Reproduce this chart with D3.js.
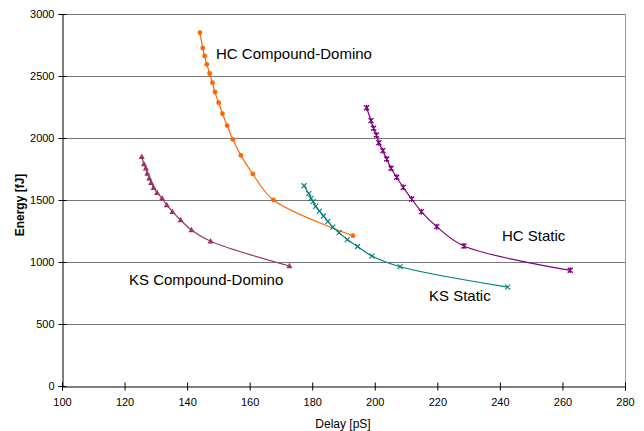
<!DOCTYPE html>
<html><head><meta charset="utf-8">
<script src="https://cdn.jsdelivr.net/npm/d3@7"></script>
<style>body{margin:0;background:#fff}svg{display:block}text{font-family:"Liberation Sans",Arial,sans-serif}</style>
</head><body><svg id="c" width="644" height="431"></svg>
<script>
const xTicks = [100,120,140,160,180,200,220,240,260,280];
const yTicks = [0,500,1000,1500,2000,2500,3000];

const hcCDx = [144.1,145.0,145.6,146.3,147.2,148.1,148.9,150.1,151.3,152.8,154.6,157.2,161.0,167.6,193.0];
const hcCDy = [2849,2726,2662,2594,2520,2446,2371,2285,2196,2100,1989,1860,1710,1500,1212];

const ksCDx = [125.5,126.2,126.8,127.3,127.9,128.5,129.3,130.4,132.0,133.5,135.3,137.9,141.4,147.5,172.7];
const ksCDy = [1849,1790,1756,1715,1675,1640,1599,1559,1514,1460,1406,1339,1258,1167,968];

const ksSx = [177.4,178.9,179.6,180.3,181.1,182.3,183.6,185.0,186.6,188.6,191.2,194.5,199.1,208.1,242.5];
const ksSy = [1615,1551,1514,1486,1449,1411,1371,1327,1281,1236,1181,1125,1048,962,798];

const hcSx = [197.4,198.8,199.6,200.5,201.3,202.6,203.8,205.2,207.0,209.1,211.8,214.9,219.8,228.5,262.5];
const hcSy = [2244,2140,2078,2024,1962,1898,1831,1756,1683,1602,1508,1406,1285,1129,933];

const seriesNames = ["HC Compound-Domino","KS Compound-Domino","KS Static","HC Static"];
const seriesColors = ["#FF6600","#993366","#008080","#800080"];
const seriesMarkers = ["circle","triangle","x","star"];
const seriesX = [hcCDx, ksCDx, ksSx, hcSx];
const seriesY = [hcCDy, ksCDy, ksSy, hcSy];
const labelPos = [[216,59],[129,285],[429,301],[502,241]];

const svg = d3.select("#c");
const L=62, R=625, T=14, B=386;
const x = d3.scaleLinear().domain([100,280]).range([L,R]);
const y = d3.scaleLinear().domain([0,3000]).range([B,T]);

// gridlines
svg.append("g").selectAll("line").data(yTicks.filter(d=>d>0)).join("line")
  .attr("x1",L).attr("x2",R).attr("y1",d=>Math.round(y(d))+0.5).attr("y2",d=>Math.round(y(d))+0.5)
  .attr("stroke","#777").attr("stroke-width",1);
// right border
svg.append("line").attr("x1",R+0.5).attr("x2",R+0.5).attr("y1",T).attr("y2",B).attr("stroke","#999");

// axes
const yAxis = svg.append("g").attr("transform",`translate(${L+0.5},0)`)
  .call(d3.axisLeft(y).tickValues(yTicks).tickFormat(d3.format("d")).tickSize(4).tickPadding(4));
yAxis.selectAll(".tick line").attr("x2",4).attr("x1",-4);
const xAxis = svg.append("g").attr("transform",`translate(0,${B+0.5})`)
  .call(d3.axisBottom(x).tickValues(xTicks).tickFormat(d3.format("d")).tickSize(4).tickPadding(8));
xAxis.selectAll(".tick line").attr("y1",-4).attr("y2",4);
[yAxis,xAxis].forEach(a=>{
  a.select(".domain").attr("stroke","#000");
  a.selectAll(".tick line").attr("stroke","#000");
  a.selectAll("text").attr("font-size",11).attr("fill","#000").attr("font-family","'Liberation Sans',Arial,sans-serif");
});

// titles
svg.append("text").attr("x",343).attr("y",428).attr("text-anchor","middle")
  .attr("font-size",12).text("Delay [pS]");
svg.append("text").attr("transform","translate(24,205) rotate(-90)").attr("text-anchor","middle")
  .attr("font-size",12).attr("font-weight","bold").text("Energy [fJ]");

const line = d3.line().x(d=>x(d[0])).y(d=>y(d[1])).curve(d3.curveCatmullRom.alpha(0.5));

seriesNames.forEach((name,i)=>{
  const pts = seriesX[i].map((v,j)=>[v,seriesY[i][j]]);
  const col = seriesColors[i];
  const g = svg.append("g");
  g.append("path").datum(pts).attr("d",line).attr("fill","none").attr("stroke",col).attr("stroke-width",1.2);
  const m = g.selectAll("g.m").data(pts).join("g").attr("transform",d=>`translate(${x(d[0])},${y(d[1])})`);
  const mk = seriesMarkers[i];
  if(mk==="circle"){
    m.append("circle").attr("r",2.4).attr("fill",col);
  } else if(mk==="triangle"){
    m.append("path").attr("d","M0,-3.2L3,2.3L-3,2.3Z").attr("fill",col);
  } else if(mk==="x"){
    m.append("path").attr("d","M-2.5,-2.5L2.5,2.5M-2.5,2.5L2.5,-2.5").attr("stroke",col).attr("stroke-width",1.1);
  } else {
    m.append("path").attr("d","M-2.5,-2.5L2.5,2.5M-2.5,2.5L2.5,-2.5M0,-3L0,3").attr("stroke",col).attr("stroke-width",1.3);
  }
  svg.append("text").attr("x",labelPos[i][0]).attr("y",labelPos[i][1]).attr("font-size",15).attr("fill","#000").text(name);
});
</script></body></html>
